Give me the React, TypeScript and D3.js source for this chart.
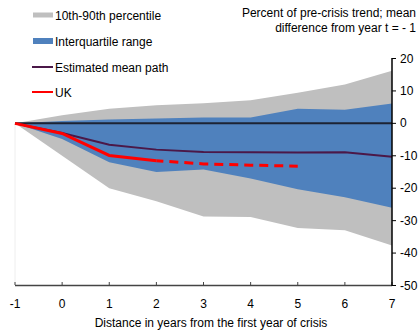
import React from "react";
import * as d3 from "d3";

const years = [-1, 0, 1, 2, 3, 4, 5, 6, 7];
const p90 = [0, 2.5, 4.5, 5.6, 6.2, 7.1, 9.4, 12, 16.2];
const p10 = [0, -10, -20, -24, -28.7, -28.9, -32.3, -33, -37.7];
const q75 = [0, 0.7, 1.2, 1.5, 1.8, 1.8, 4.5, 4.2, 6.1];
const q25 = [0, -4.8, -12, -15, -14.2, -17, -20.3, -22.8, -26];
const meanPath = [0, -3, -6.6, -8.1, -8.8, -8.9, -9, -8.9, -10.3];
const ukYears = [-1, 0, 1, 2];
const ukValues = [0, -3.1, -9.9, -11.5];
const ukProjYears = [2, 3, 4, 5];
const ukProjValues = [-11.5, -12.5, -12.9, -13.2];
const yTicks = [20, 10, 0, -10, -20, -30, -40, -50];
const legendLabels = ["10th-90th percentile", "Interquartile range", "Estimated mean path", "UK"];

const W = 419;
const H = 335;
const FONT = "'Liberation Sans', Arial, sans-serif";

export default function App() {
  const x = d3.scaleLinear().domain([-1, 7]).range([15, 392]);
  const y = d3.scaleLinear().domain([-50, 20]).range([285.5, 58.5]);

  const area = (lo: number[], hi: number[]) =>
    d3
      .area<number>()
      .x((_, i) => x(years[i]))
      .y0((_, i) => y(lo[i]))
      .y1((_, i) => y(hi[i]))(years) as string;

  const line = (xs: number[], vs: number[]) =>
    d3
      .line<number>()
      .x((_, i) => x(xs[i]))
      .y((v) => y(v))(vs) as string;

  const legendY = [15, 41, 67, 92];
  const legendColors = ["#BFBFBF", "#4F81BD", "#4B1848", "#FF0000"];

  return (
    <svg
      width={W}
      height={H}
      style={{ position: "absolute", left: 0, top: 0, background: "#fff" }}
      fontFamily={FONT}
    >
      <rect x={0} y={0} width={W} height={H} fill="#fff" />
      <line x1={15} x2={15} y1={y(0)} y2={285} stroke="#eeeeee" strokeWidth={1} />
      <path d={area(p10, p90)} fill="#BFBFBF" />
      <path d={area(q25, q75)} fill="#4F81BD" />
      <line x1={x(-1)} x2={x(7)} y1={y(0)} y2={y(0)} stroke="#1C2333" strokeWidth={2} />
      <path d={line(years, meanPath)} fill="none" stroke="#4B1848" strokeWidth={2} />
      <path d={line(ukYears, ukValues)} fill="none" stroke="#FF0000" strokeWidth={3} />
      <path
        d={line(ukProjYears, ukProjValues)}
        fill="none"
        stroke="#FF0000"
        strokeWidth={3}
        strokeDasharray="9 6"
        strokeDashoffset={2}
      />

      {/* bottom axis */}
      <line x1={15} x2={392} y1={285.5} y2={285.5} stroke="#444" strokeWidth={1.5} />
      {years.map((t) => (
        <g key={t}>
          <line x1={x(t)} x2={x(t)} y1={285} y2={282} stroke="#444" strokeWidth={1} />
          <text x={x(t)} y={308} textAnchor="middle" fontSize={12} fill="#000">
            {t}
          </text>
        </g>
      ))}
      <text x={211} y={327} textAnchor="middle" fontSize={12} fill="#000">
        Distance in years from the first year of crisis
      </text>

      {/* right axis */}
      <line x1={392} x2={392} y1={58} y2={286} stroke="#000" strokeWidth={1.5} />
      {yTicks.map((t) => (
        <g key={t}>
          <line x1={392} x2={396} y1={y(t)} y2={y(t)} stroke="#000" strokeWidth={1} />
          <text x={400} y={y(t) + 4} fontSize={12} fill="#000">
            {t}
          </text>
        </g>
      ))}
      <text x={416} y={17} textAnchor="end" fontSize={12} fill="#000">
        Percent of pre-crisis trend; mean
      </text>
      <text x={416} y={32} textAnchor="end" fontSize={12} fill="#000">
        difference from year t = - 1
      </text>

      {/* legend */}
      {legendLabels.map((lab, i) => (
        <g key={lab}>
          {i === 0 && <rect x={33} y={legendY[i] - 2.5} width={20} height={5} fill={legendColors[i]} />}
          {i === 1 && <rect x={33} y={legendY[i] - 3} width={20} height={6} fill={legendColors[i]} />}
          {i >= 2 && (
            <line x1={32} x2={53} y1={legendY[i]} y2={legendY[i]} stroke={legendColors[i]} strokeWidth={2} />
          )}
          <text x={55} y={legendY[i] + 4.5} fontSize={12} fill="#000">
            {lab}
          </text>
        </g>
      ))}
    </svg>
  );
}
